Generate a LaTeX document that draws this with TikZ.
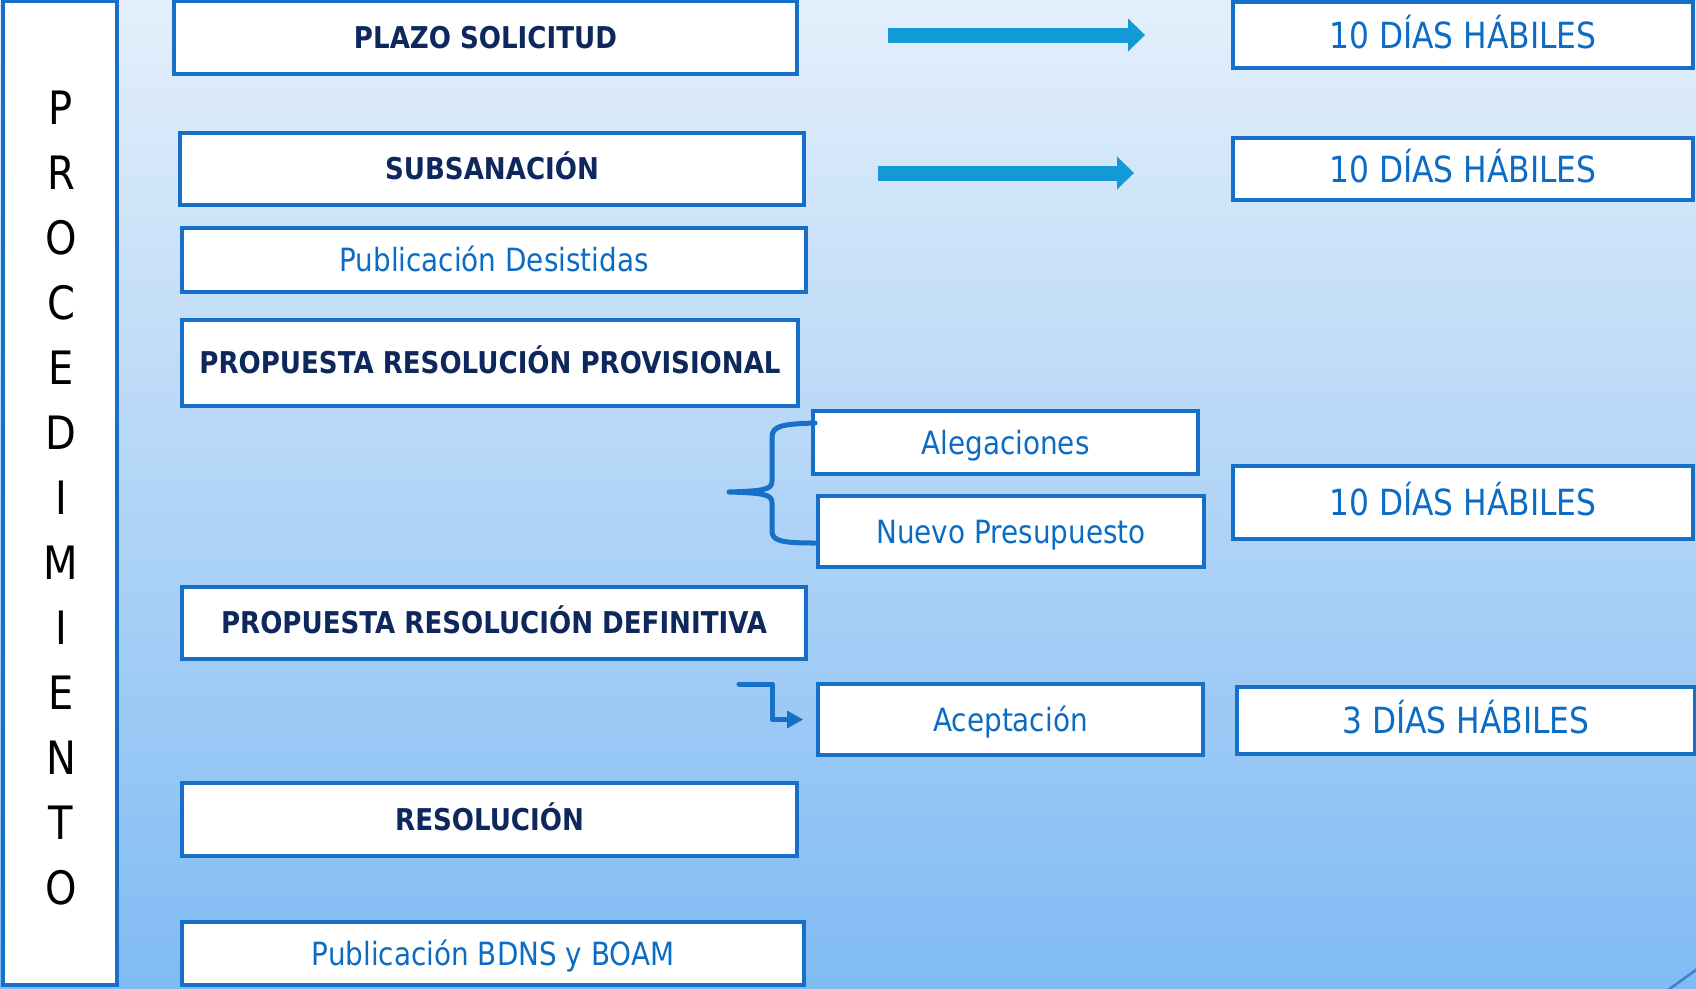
\documentclass[tikz,border=0pt]{standalone}
\usepackage{fontspec}
\setmainfont{DejaVu Sans}[FakeStretch=0.87]
\usetikzlibrary{arrows.meta,shadows}
\definecolor{bgtop}{RGB}{228,239,251}
\definecolor{bgmid}{RGB}{180,215,248}
\definecolor{bgbot}{RGB}{128,187,243}
\definecolor{boxblue}{RGB}{22,112,200}
\definecolor{navy}{RGB}{14,40,94}
\definecolor{txtblue}{RGB}{12,108,196}
\definecolor{arrowblue}{RGB}{18,154,214}
\begin{document}
\begin{tikzpicture}[x=1pt,y=-1pt,
  box/.style={draw=boxblue, line width=4pt, fill=white, inner sep=0pt, outer sep=0pt,
    text depth=0pt,
    drop shadow={shadow xshift=2pt, shadow yshift=-2pt, opacity=0.2, fill=black}},
  boldtxt/.style={font=\fontsize{30}{36}\selectfont\bfseries, text=navy, text height=21.9pt},
  bluetxt/.style={font=\fontsize{32}{38}\selectfont, text=txtblue, text height=23.4pt},
  daytxt/.style={font=\fontsize{36}{42}\selectfont, text=txtblue, text height=26.3pt},
  lettxt/.style={font=\fontsize{46}{50}\selectfont, text=black, inner sep=0pt, text height=33.6pt, text depth=0pt},
  bigarrow/.style={draw=arrowblue, line width=15pt, -{Triangle[length=17pt,width=33pt,line width=0pt]}},
  bracestyle/.style={draw=boxblue, line width=5pt, line cap=round, line join=round},
  elbow/.style={draw=boxblue, line width=5pt, line cap=round, line join=round, -{Triangle[length=16pt,width=18pt,line width=0pt]}}
]
\useasboundingbox (0,0) rectangle (1696,988);
\shade[top color=bgtop, middle color=bgmid, bottom color=bgbot] (0,0) rectangle (1696,988);

% left column
\node[box, minimum width=114pt, minimum height=984pt] (left) at (60,493) {};
\foreach \l [count=\i] in {P,R,O,C,E,D,I,M,I,E,N,T,O}
  \node[lettxt] (L\i) at (61,{108+65*(\i-1)}) {\l};

% main boxes
\node[box, boldtxt, minimum width=623pt, minimum height=73pt] (plazo) at (485.5,37.5) {PLAZO SOLICITUD};
\node[box, boldtxt, minimum width=624pt, minimum height=72pt] (subs) at (492,169) {SUBSANACIÓN};
\node[box, bluetxt, minimum width=624pt, minimum height=64pt] (desist) at (494,260) {Publicación Desistidas};
\node[box, boldtxt, minimum width=616pt, minimum height=86pt] (prov) at (490,363) {PROPUESTA RESOLUCIÓN PROVISIONAL};
\node[box, bluetxt, minimum width=385pt, minimum height=63pt] (aleg) at (1005.5,442.5) {Alegaciones};
\node[box, bluetxt, minimum width=386pt, minimum height=71pt] (nuevo) at (1011,531.5) {Nuevo Presupuesto};
\node[box, boldtxt, minimum width=624pt, minimum height=72pt] (def) at (494,623) {PROPUESTA RESOLUCIÓN DEFINITIVA};
\node[box, bluetxt, minimum width=385pt, minimum height=71pt] (acep) at (1010.5,719.5) {Aceptación};
\node[box, boldtxt, minimum width=615pt, minimum height=73pt] (resol) at (489.5,819.5) {RESOLUCIÓN};
\node[box, bluetxt, minimum width=622pt, minimum height=63pt] (bdns) at (493,953.5) {Publicación BDNS y BOAM};

% day boxes
\node[box, daytxt, minimum width=460pt, minimum height=66pt] (dias1) at (1463,35) {10 DÍAS HÁBILES};
\node[box, daytxt, minimum width=460pt, minimum height=62pt] (dias2) at (1463,169) {10 DÍAS HÁBILES};
\node[box, daytxt, minimum width=460pt, minimum height=73pt] (dias3) at (1463,502.5) {10 DÍAS HÁBILES};
\node[box, daytxt, minimum width=458pt, minimum height=67pt] (dias4) at (1466,720.5) {3 DÍAS HÁBILES};

% big arrows
\draw[bigarrow, shorten <=91pt, shorten >=88pt] (plazo.east |- dias1.west) -- (dias1.west);
\draw[bigarrow, shorten <=74pt, shorten >=99pt] ([yshift=-4pt]subs.east) -- ([yshift=-4pt]dias2.west);

% brace
\coordinate (btop) at ([shift={(2,-19.5)}]aleg.west);
\coordinate (bbot) at ([shift={(-3,11.5)}]nuevo.west);
\coordinate (btip) at (729,492);
\draw[bracestyle] (btop) .. controls (782,424) and (772,426) .. (772,437) -- (772,481)
  .. controls (772,489) and (766,491) .. (btip)
  .. controls (766,493) and (772,495) .. (772,503) -- (772,531)
  .. controls (772,541) and (782,543) .. (bbot);

% elbow arrow
\coordinate (estart) at ([shift={(-67,25)}]def.south east);
\draw[elbow] (estart) -- ++(33,0) |- ([xshift=-15pt]acep.west);

% corner decoration
\draw[boxblue!85, line width=2.5pt] (1668,990) -- (1700,967);
\end{tikzpicture}
\end{document}
